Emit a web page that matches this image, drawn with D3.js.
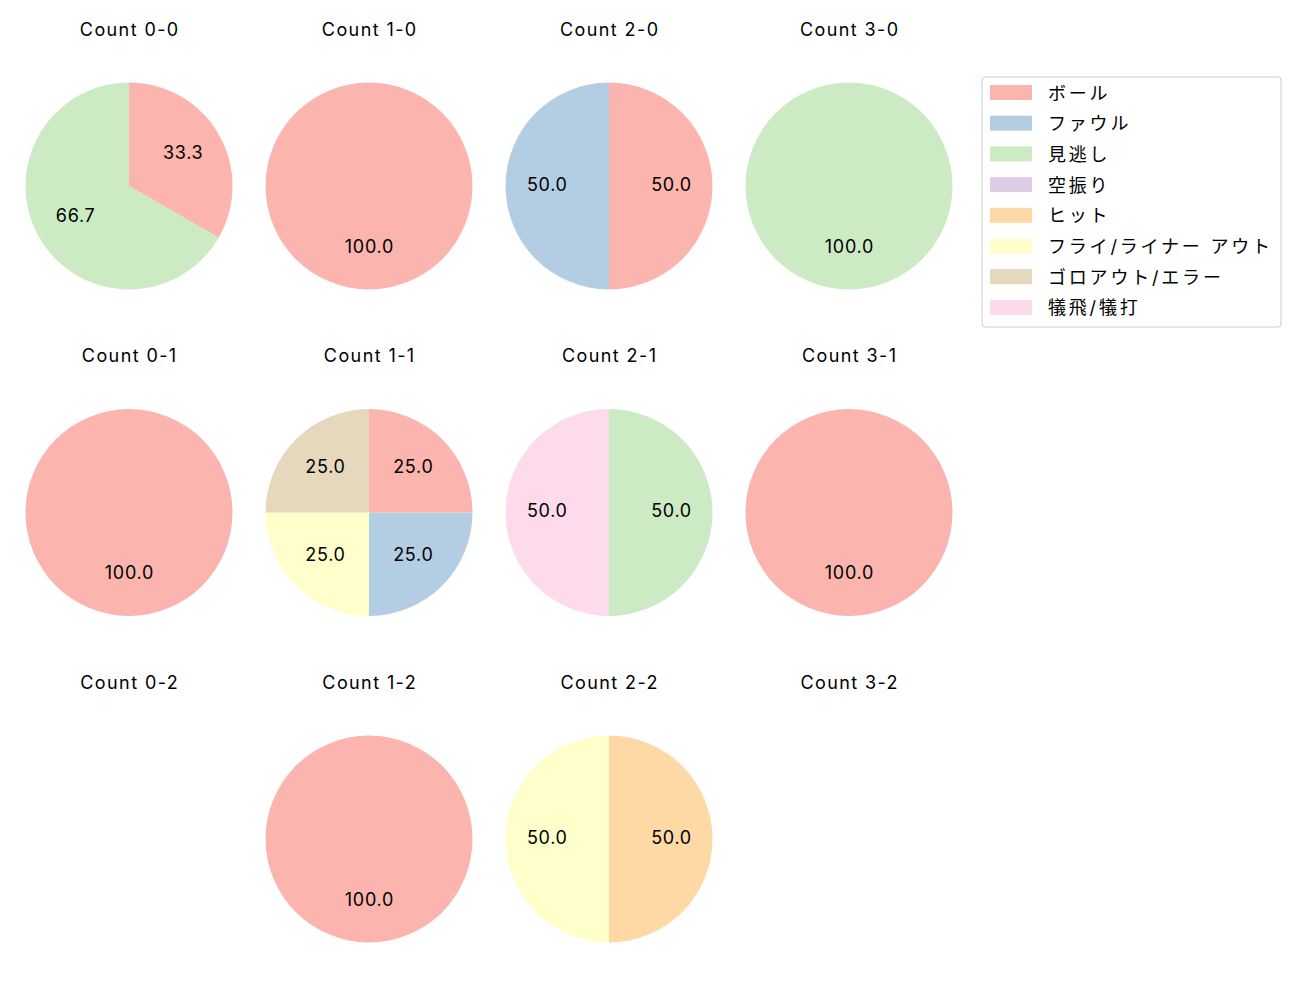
<!DOCTYPE html>
<html>
<head>
<meta charset="utf-8">
<script src="https://cdn.jsdelivr.net/npm/d3@7"></script>
<style>
body{margin:0;background:#fff;}
text{font-family:Inter,"Noto Sans CJK JP",sans-serif;}
</style>
</head>
<body>
<script>
const categories=["ボール","ファウル","見逃し","空振り","ヒット","フライ/ライナー アウト","ゴロアウト/エラー","犠飛/犠打"];
const colors=["#fbb4ae","#b3cde3","#ccebc5","#decbe4","#fed9a6","#ffffcc","#e5d8bd","#fddaec"];

// counts per ball-strike state, in category order
const panels=["0-0","1-0","2-0","3-0","0-1","1-1","2-1","3-1","0-2","1-2","2-2","3-2"];
const counts=[
  [1,0,2,0,0,0,0,0],
  [1,0,0,0,0,0,0,0],
  [1,1,0,0,0,0,0,0],
  [0,0,1,0,0,0,0,0],
  [1,0,0,0,0,0,0,0],
  [1,1,0,0,0,1,1,0],
  [0,0,1,0,0,0,0,1],
  [1,0,0,0,0,0,0,0],
  [0,0,0,0,0,0,0,0],
  [1,0,0,0,0,0,0,0],
  [0,0,0,0,1,1,0,0],
  [0,0,0,0,0,0,0,0]
];

const W=1300,H=1000,r=103.5;
const svg=d3.select("body").append("svg").attr("width",W).attr("height",H);

const x=d3.scaleLinear().domain([0,3]).range([129,849]);
const y=d3.scaleLinear().domain([0,2]).range([186,839]);

const pie=d3.pie().sort(null).value(d=>d.v);
const arc=d3.arc().innerRadius(0).outerRadius(r);
const lab=d3.arc().innerRadius(r*0.6).outerRadius(r*0.6);

panels.forEach((p,i)=>{
  const col=i%4,row=Math.floor(i/4);
  const g=svg.append("g").attr("transform",`translate(${x(col)},${y(row)})`);
  g.append("text").attr("x",0.7).attr("y",-150.5).attr("text-anchor","middle")
    .attr("font-size",18).attr("letter-spacing",1.4).attr("fill","#000")
    .text("Count "+p);
  const data=counts[i].map((v,k)=>({v,k})).filter(d=>d.v>0);
  if(!data.length) return;
  const tot=d3.sum(data,d=>d.v);
  const arcs=pie(data);
  g.selectAll("path").data(arcs).enter().append("path")
    .attr("d",arc).attr("fill",d=>colors[d.data.k]);
  g.selectAll("text.pct").data(arcs).enter().append("text").attr("class","pct")
    .attr("transform",d=>{const c=lab.centroid(d);return `translate(${c[0]+0.4},${c[1]+4.5})`;})
    .attr("text-anchor","middle").attr("letter-spacing",0.7)
    .attr("font-size",18).attr("fill","#000")
    .text(d=>(d.data.v/tot*100).toFixed(1));
});

// legend
const lg=svg.append("g").attr("transform","translate(982,77)");
lg.append("rect").attr("x",0).attr("y",0).attr("width",299).attr("height",250)
  .attr("rx",3).attr("fill","#fff").attr("stroke","#ccc");
const items=lg.selectAll("g.item").data(categories).enter().append("g")
  .attr("transform",(d,i)=>`translate(0,${15+i*30.7})`);
items.append("rect").attr("x",8).attr("y",-7).attr("width",42).attr("height",15)
  .attr("fill",(d,i)=>colors[i]);
items.append("text").attr("x",66).attr("y",7.5).attr("letter-spacing",2.8)
  .attr("font-size",18).attr("fill","#000").text(d=>d);
</script>
</body>
</html>
